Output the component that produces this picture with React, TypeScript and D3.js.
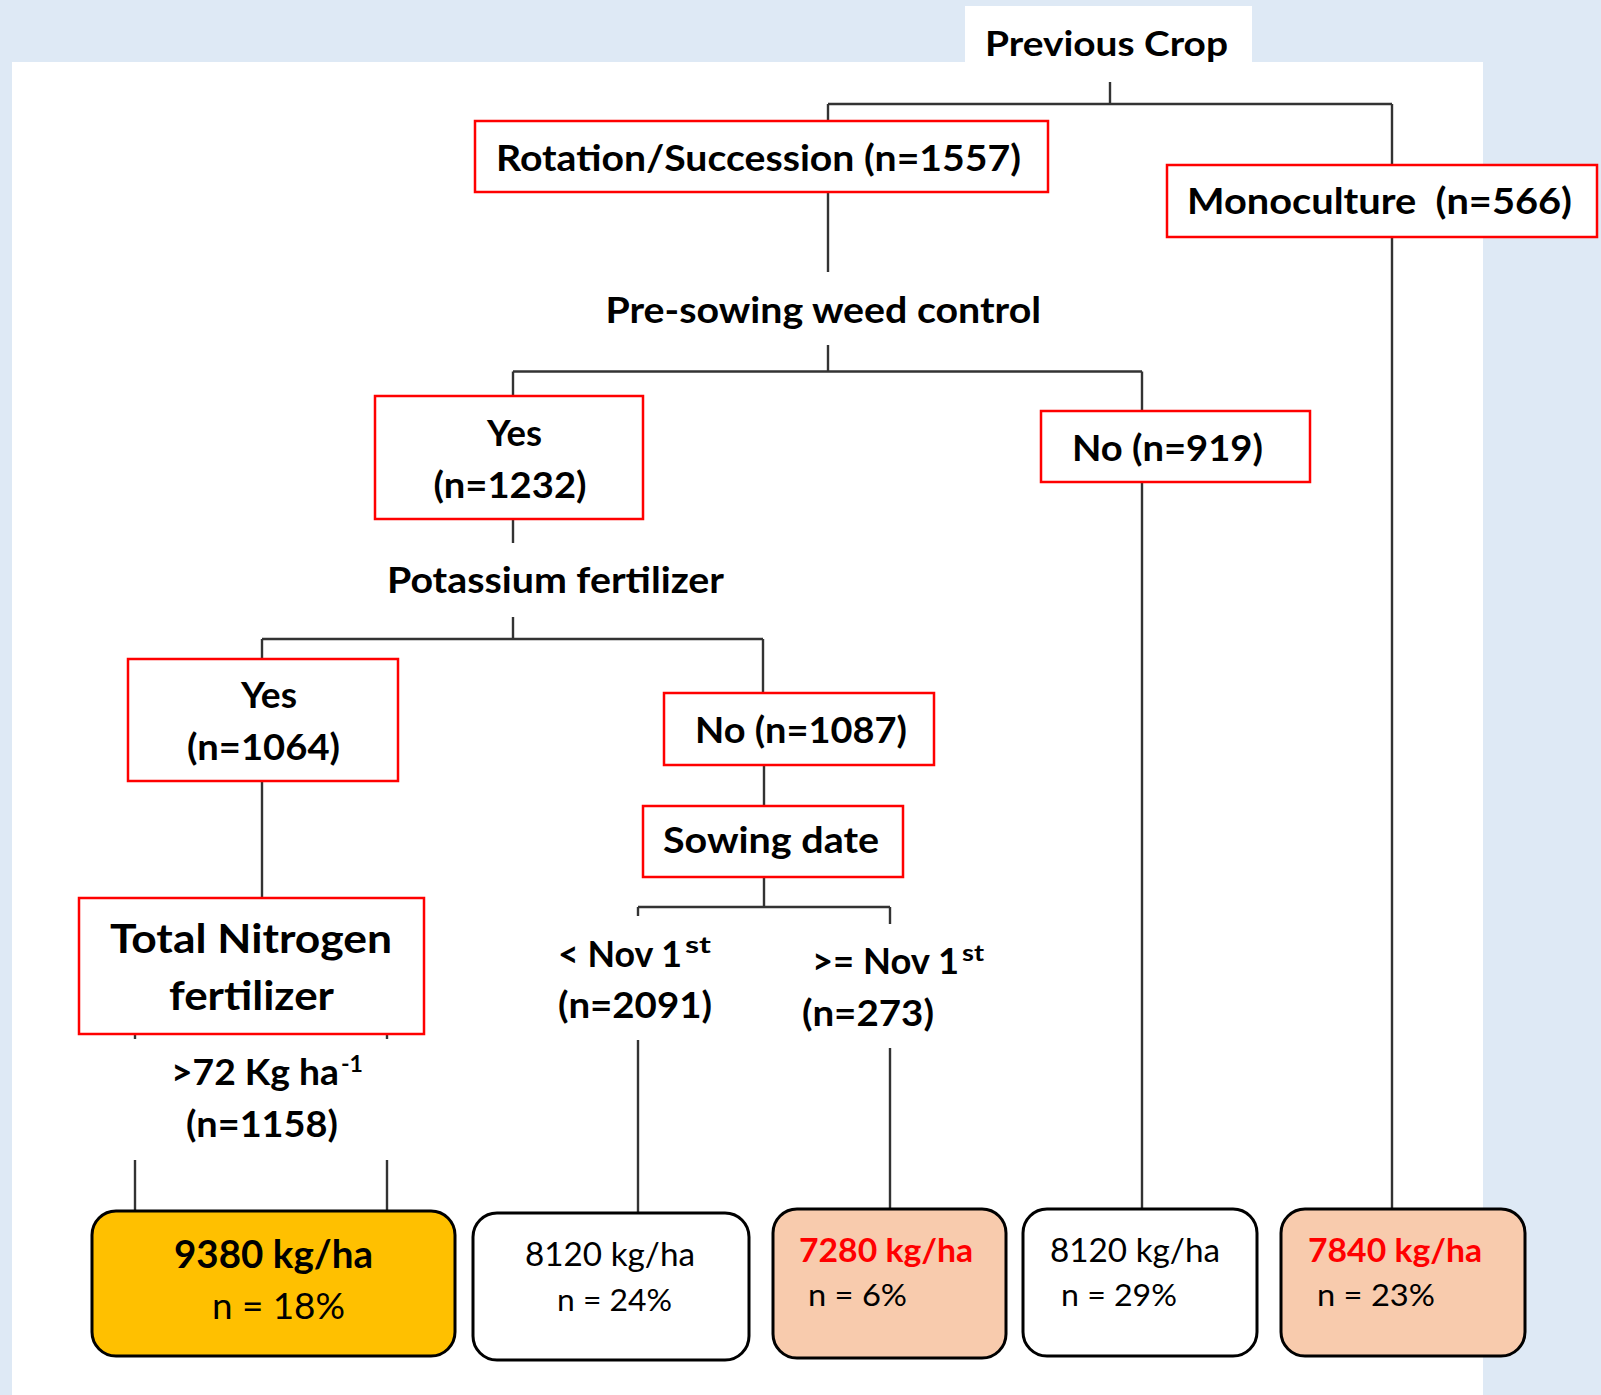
import React from "react";
import * as d3 from "d3";

// ---------- DATA ----------
const splitLabels = ["Previous Crop", "Pre-sowing weed control", "Potassium fertilizer", "Sowing date", "Total Nitrogen", "fertilizer"];
const branchLabels = ["Rotation/Succession", "Monoculture", "Yes", "No", "Yes", "No", "< Nov 1", ">= Nov 1", ">72 Kg ha"];
const branchN = [1557, 566, 1232, 919, 1064, 1087, 2091, 273, 1158];
const leafYield = [9380, 8120, 7280, 8120, 7840];
const leafShare = [18, 24, 6, 29, 23];
const leafClass = ["best", "mid", "low", "mid", "low"];

// ---------- LAYOUT ----------
const W = 1601;
const H = 1395;
const FONT = "Lato, 'Open Sans', sans-serif";
const LINE = "#333333";
const RED = "#FF0000";

const fillScale = d3.scaleOrdinal<string, string>().domain(["best", "mid", "low"]).range(["#FFC000", "#FFFFFF", "#F8CBAD"]);
const textScale = d3.scaleOrdinal<string, string>().domain(["best", "mid", "low"]).range(["#000000", "#000000", "#FF0000"]);
const weightScale = d3.scaleOrdinal<string, number>().domain(["best", "mid", "low"]).range([700, 400, 700]);

// connectors [x1,y1,x2,y2]
const links: [number, number, number, number][] = [
  [1110, 82, 1110, 104],
  [828, 104, 1392, 104],
  [828, 104, 828, 121],
  [1392, 104, 1392, 1210],
  [828, 192, 828, 272],
  [828, 345, 828, 371.5],
  [513, 371.5, 1142, 371.5],
  [513, 371.5, 513, 396],
  [1142, 371.5, 1142, 1210],
  [513, 519, 513, 543],
  [513, 617, 513, 639],
  [262, 639, 763, 639],
  [262, 639, 262, 659],
  [763, 639, 763, 694],
  [262, 781, 262, 898],
  [764, 765, 764, 806],
  [764, 876, 764, 907],
  [638, 907, 890, 907],
  [638, 907, 638, 916],
  [890, 907, 890, 924],
  [638, 1040, 638, 1213],
  [890, 1048, 890, 1209],
  [135, 1034, 135, 1039],
  [387, 1034, 387, 1039],
  [135, 1160, 135, 1211],
  [387, 1160, 387, 1211],
];

// red boxes: x, y, w, h
const redBoxes: [number, number, number, number][] = [
  [475, 121, 573, 71],
  [1167, 165, 430, 72],
  [375, 396, 268, 123],
  [1041, 411, 269, 71],
  [128, 659, 270, 122],
  [664, 693, 270, 72],
  [643, 806, 260, 71],
  [79, 898, 345, 136],
];

const leafBoxes: [number, number, number, number][] = [
  [92, 1211, 363, 145],
  [473, 1213, 276, 147],
  [773, 1209, 233, 149],
  [1023, 1209, 234, 147],
  [1281, 1209, 244, 147],
];
// leaf text: [x1, baseline1, width1, size1, x2, baseline2, width2, size2]
const leafText: number[][] = [
  [174, 1268, 199, 39, 212, 1319, 133, 36],
  [525, 1266, 170, 32, 557, 1311, 115, 31],
  [799, 1262, 174, 32, 808, 1306, 99, 31],
  [1050, 1262, 170, 32, 1061, 1306, 116, 31],
  [1308, 1262, 174, 32, 1317, 1306, 118, 31],
];

type FTProps = { x: number; y: number; w: number; size: number; weight?: number; fill?: string; children: React.ReactNode };
function FitText({ x, y, w, size, weight = 700, fill = "#000", children }: FTProps) {
  return (
    <text
      x={x}
      y={y}
      textLength={w}
      lengthAdjust="spacingAndGlyphs"
      fontFamily={FONT}
      fontSize={size}
      fontWeight={weight}
      fill={fill}
      style={{ whiteSpace: "pre" }}
    >
      {children}
    </text>
  );
}

function linkPath(l: [number, number, number, number]) {
  const p = d3.path();
  p.moveTo(l[0], l[1]);
  p.lineTo(l[2], l[3]);
  return p.toString();
}

export default function App() {
  const n = (i: number) => `(n=${branchN[i]})`;
  return (
    <svg width={W} height={H} style={{ position: "absolute", left: 0, top: 0 }} xmlns="http://www.w3.org/2000/svg">
      <rect x={0} y={0} width={W} height={H} fill="#DEE9F5" />
      <rect x={12} y={62} width={1471} height={H - 62} fill="#FFFFFF" />
      <rect x={965} y={6} width={287} height={60} fill="#FFFFFF" />

      {links.map((l, i) => (
        <path key={i} d={linkPath(l)} stroke={LINE} strokeWidth={2.4} fill="none" />
      ))}

      {redBoxes.map((b, i) => (
        <rect key={i} x={b[0]} y={b[1]} width={b[2]} height={b[3]} fill="#FFFFFF" stroke={RED} strokeWidth={2.5} />
      ))}

      {leafBoxes.map((b, i) => (
        <rect key={i} x={b[0]} y={b[1]} width={b[2]} height={b[3]} rx={24} ry={24} fill={fillScale(leafClass[i])} stroke="#000" strokeWidth={3} />
      ))}

      {/* split labels */}
      <FitText x={985} y={56} w={243} size={35}>{splitLabels[0]}</FitText>
      <FitText x={605.5} y={322.5} w={435.5} size={36}>{splitLabels[1]}</FitText>
      <FitText x={387} y={593} w={337} size={36}>{splitLabels[2]}</FitText>
      <FitText x={663} y={853} w={216} size={36}>{splitLabels[3]}</FitText>
      <FitText x={110} y={953} w={282} size={40}>{splitLabels[4]}</FitText>
      <FitText x={169} y={1010} w={165} size={40}>{splitLabels[5]}</FitText>

      {/* branch labels */}
      <FitText x={496} y={171} w={525} size={36}>{`${branchLabels[0]} ${n(0)}`}</FitText>
      <FitText x={1187} y={214} w={385} size={36}>{`${branchLabels[1]}  ${n(1)}`}</FitText>
      <FitText x={487} y={446} w={55} size={36}>{branchLabels[2]}</FitText>
      <FitText x={433.5} y={498} w={153} size={36}>{n(2)}</FitText>
      <FitText x={1072} y={461} w={191} size={36}>{`${branchLabels[3]} ${n(3)}`}</FitText>
      <FitText x={241} y={708} w={56} size={36}>{branchLabels[4]}</FitText>
      <FitText x={187} y={760} w={153} size={36}>{n(4)}</FitText>
      <FitText x={695} y={743} w={212} size={36}>{`${branchLabels[5]} ${n(5)}`}</FitText>

      <FitText x={558} y={967} w={124} size={36}>{branchLabels[6]}</FitText>
      <FitText x={685} y={953} w={26} size={23}>st</FitText>
      <FitText x={558} y={1018} w={154} size={36}>{n(6)}</FitText>

      <FitText x={812} y={974} w={147} size={36}>{branchLabels[7]}</FitText>
      <FitText x={962} y={961} w={22} size={23}>st</FitText>
      <FitText x={802} y={1026} w={132} size={36}>{n(7)}</FitText>

      <FitText x={171} y={1085} w={168} size={36}>{branchLabels[8]}</FitText>
      <FitText x={341} y={1072} w={22} size={23}>-1</FitText>
      <FitText x={186} y={1137} w={152} size={36}>{n(8)}</FitText>

      {/* leaves */}
      {leafText.map((t, i) => (
        <g key={i}>
          <FitText x={t[0]} y={t[1]} w={t[2]} size={t[3]} weight={weightScale(leafClass[i])} fill={textScale(leafClass[i])}>
            {`${leafYield[i]} kg/ha`}
          </FitText>
          <FitText x={t[4]} y={t[5]} w={t[6]} size={t[7]} weight={400} fill="#000">
            {`n = ${leafShare[i]}%`}
          </FitText>
        </g>
      ))}
    </svg>
  );
}
